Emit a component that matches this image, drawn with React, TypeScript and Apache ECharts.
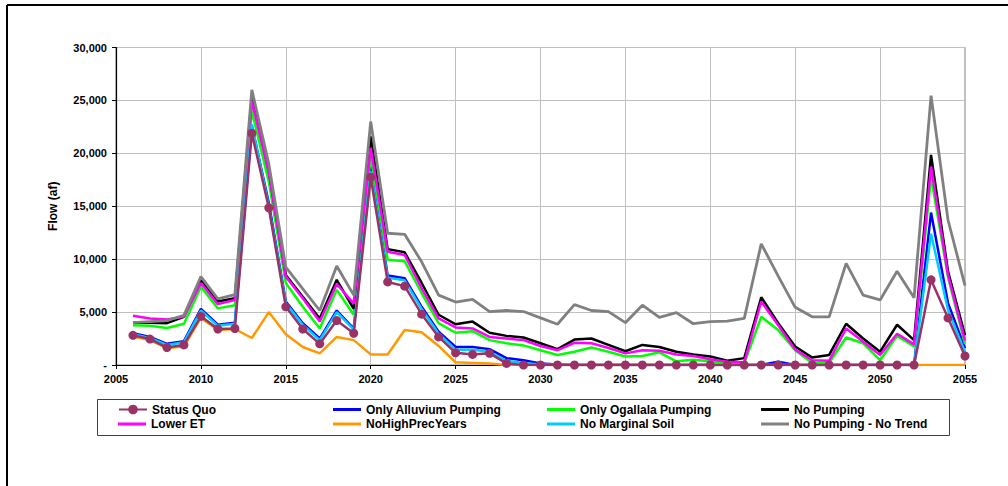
import React, { useEffect, useRef } from "react";
import * as echarts from "echarts";

const years = [
  2006, 2007, 2008, 2009, 2010, 2011, 2012, 2013, 2014, 2015,
  2016, 2017, 2018, 2019, 2020, 2021, 2022, 2023, 2024, 2025,
  2026, 2027, 2028, 2029, 2030, 2031, 2032, 2033, 2034, 2035,
  2036, 2037, 2038, 2039, 2040, 2041, 2042, 2043, 2044, 2045,
  2046, 2047, 2048, 2049, 2050, 2051, 2052, 2053, 2054, 2055,
];

const statusQuo = [
  2800, 2450, 1650, 1900, 4600, 3400, 3450, 21900, 14850, 5500,
  3400, 2000, 4200, 3000, 17750, 7850, 7450, 4800, 2650, 1150,
  1000, 1100, 150, 0, 0, 0, 0, 0, 0, 0,
  0, 0, 0, 0, 0, 0, 0, 0, 0, 0,
  0, 0, 0, 0, 0, 0, 0, 8050, 4450, 850,
];

const onlyAlluvium = [
  3000, 2650, 2000, 2250, 5300, 3800, 4000, 22600, 15300, 6000,
  3950, 2500, 5150, 3450, 18700, 8450, 8200, 5500, 3150, 1700,
  1700, 1500, 650, 450, 150, 50, 0, 0, 0, 0,
  0, 0, 0, 0, 0, 0, 0, 0, 300, 0,
  0, 0, 0, 0, 0, 0, 0, 14400, 5850, 1600,
];

const onlyOgallala = [
  3750, 3700, 3500, 3900, 7400, 5350, 5650, 24000, 17300, 7750,
  5500, 3450, 7100, 4750, 19700, 9950, 9800, 6800, 3950, 3050,
  3200, 2350, 2050, 1850, 1400, 950, 1250, 1650, 1250, 800,
  850, 1200, 350, 500, 350, 150, 150, 4550, 3300, 1400,
  200, 200, 2600, 2050, 450, 2750, 1750, 17800, 8300, 2000,
];

const noPumping = [
  4000, 4000, 3950, 4550, 8050, 6000, 6300, 25400, 18300, 8500,
  6450, 4400, 8050, 5300, 21600, 10950, 10650, 7750, 4750, 3850,
  4100, 3050, 2750, 2600, 2050, 1500, 2400, 2500, 1900, 1300,
  1900, 1700, 1250, 1000, 800, 400, 650, 6400, 3950, 1750,
  700, 950, 3900, 2500, 1250, 3800, 2350, 19850, 8850, 2800,
];

const lowerET = [
  4650, 4400, 4300, 4550, 7750, 5750, 6150, 24900, 18200, 8350,
  6300, 4100, 7650, 5800, 20500, 10700, 10400, 7250, 4400, 3550,
  3450, 2650, 2500, 2350, 1800, 1400, 2100, 2050, 1600, 1100,
  1400, 1350, 1000, 850, 550, 300, 250, 6000, 3750, 1450,
  450, 400, 3450, 2200, 950, 2950, 1950, 18750, 8500, 2300,
];

const noHighPrecYears = [
  2700, 2350, 1600, 1750, 4450, 3300, 3400, 2550, 5000, 2900,
  1700, 1100, 2650, 2350, 1000, 1000, 3300, 3100, 1800, 250,
  200, 150, 0, 0, 0, 0, 0, 0, 0, 0,
  0, 0, 0, 0, 0, 0, 0, 0, 0, 0,
  0, 0, 0, 0, 0, 0, 0, 0, 0, 0,
];

const noMarginalSoil = [
  2900, 2550, 1900, 2150, 5150, 3700, 3900, 22750, 15000, 5850,
  3800, 2350, 5000, 3350, 18300, 8250, 8000, 5300, 2950, 1450,
  1450, 1250, 400, 200, 50, 0, 0, 0, 0, 0,
  0, 0, 0, 0, 0, 0, 0, 0, 0, 0,
  0, 0, 0, 0, 0, 0, 0, 12400, 5200, 1200,
];

const noPumpingNoTrend = [
  4000, 4100, 4200, 4700, 8350, 6250, 6650, 26000, 19000, 9250,
  7200, 5150, 9350, 6600, 23000, 12450, 12350, 9750, 6600, 5950,
  6200, 5050, 5150, 5050, 4450, 3850, 5700, 5150, 5050, 4000,
  5650, 4500, 4950, 3900, 4100, 4150, 4400, 11450, 8400, 5450,
  4550, 4550, 9600, 6600, 6150, 8850, 6350, 25450, 13700, 7500,
];

const seriesDefs = [
  { name: "Status Quo", data: statusQuo, color: "#993366", width: 2.5, marker: true, z: 10 },
  { name: "Only Alluvium Pumping", data: onlyAlluvium, color: "#0000FF", width: 2.5, marker: false, z: 3 },
  { name: "Only Ogallala Pumping", data: onlyOgallala, color: "#00FF00", width: 2.5, marker: false, z: 3 },
  { name: "No Pumping", data: noPumping, color: "#000000", width: 2.5, marker: false, z: 3 },
  { name: "Lower ET", data: lowerET, color: "#FF00FF", width: 2.5, marker: false, z: 4 },
  { name: "NoHighPrecYears", data: noHighPrecYears, color: "#FF9900", width: 2.5, marker: false, z: 4 },
  { name: "No Marginal Soil", data: noMarginalSoil, color: "#00CCFF", width: 2.5, marker: false, z: 4 },
  { name: "No Pumping - No Trend", data: noPumpingNoTrend, color: "#808080", width: 2.8, marker: false, z: 5 },
];

const legendCols = [118, 333, 547, 761];
const legendRowTops = [403.5, 418];

const FONT = "'Liberation Sans', Arial, sans-serif";

export default function App() {
  const ref = useRef<HTMLDivElement>(null);

  useEffect(() => {
    if (!ref.current) return;
    const chart = echarts.init(ref.current, undefined, { renderer: "svg" });

    const legends = seriesDefs.map((s, i) => {
      const legend: any = {
        data: [s.name],
        left: legendCols[i % 4],
        top: legendRowTops[Math.floor(i / 4)],
        orient: "horizontal",
        padding: 0,
        itemWidth: 28,
        itemHeight: s.marker ? 12 : 3,
        itemGap: 0,
        selectedMode: false,
        textStyle: { fontFamily: FONT, fontWeight: "bold", fontSize: 12, color: "#000" },
      };
      if (!s.marker) {
        legend.icon = "rect";
      }
      return legend;
    });

    const option: any = {
      animation: false,
      backgroundColor: "#ffffff",
      textStyle: { fontFamily: FONT },
      grid: {
        left: 116,
        right: 43,
        top: 47.5,
        bottom: 121,
        show: true,
        borderColor: "#808080",
        borderWidth: 1,
        backgroundColor: "transparent",
      },
      legend: legends,
      xAxis: {
        type: "value",
        min: 2005,
        max: 2055,
        interval: 5,
        axisLine: { show: true, onZero: false, lineStyle: { color: "#000", width: 1.2 } },
        axisTick: { show: true, inside: false, length: 4, lineStyle: { color: "#000" } },
        axisLabel: {
          fontFamily: FONT,
          fontWeight: "bold",
          fontSize: 11,
          color: "#000",
          margin: 8,
          formatter: (v: number) => String(v),
        },
        splitLine: { show: true, lineStyle: { color: "#c0c0c0", width: 1 } },
      },
      yAxis: {
        type: "value",
        min: 0,
        max: 30000,
        interval: 5000,
        name: "Flow (af)",
        nameLocation: "middle",
        nameGap: 57,
        nameTextStyle: { fontFamily: FONT, fontWeight: "bold", fontSize: 12, color: "#000" },
        axisLine: { show: true, lineStyle: { color: "#000", width: 1.2 } },
        axisTick: { show: true, inside: false, length: 4, lineStyle: { color: "#000" } },
        axisLabel: {
          fontFamily: FONT,
          fontWeight: "bold",
          fontSize: 11,
          color: "#000",
          margin: 9,
          formatter: (v: number) => (v === 0 ? "-" : v.toLocaleString("en-US")),
        },
        splitLine: { show: true, lineStyle: { color: "#c0c0c0", width: 1 } },
      },
      series: seriesDefs.map((s) => ({
        name: s.name,
        type: "line",
        data: years.map((y, i) => [y, s.data[i]]),
        z: s.z,
        silent: true,
        symbol: s.marker ? "circle" : "none",
        symbolSize: s.marker ? 9 : 0,
        showSymbol: s.marker,
        itemStyle: { color: s.color },
        lineStyle: { color: s.color, width: s.width },
      })),
      graphic: [
        {
          type: "line",
          shape: { x1: 7, y1: 5, x2: 1008, y2: 5 },
          style: { stroke: "#000", lineWidth: 2 },
          silent: true,
        },
        {
          type: "line",
          shape: { x1: 7, y1: 5, x2: 7, y2: 486 },
          style: { stroke: "#000", lineWidth: 2 },
          silent: true,
        },
        {
          type: "rect",
          shape: { x: 97.5, y: 399.5, width: 852, height: 36 },
          style: { fill: "none", stroke: "#404040", lineWidth: 1 },
          silent: true,
        },
      ],
    };

    chart.setOption(option);
    return () => chart.dispose();
  }, []);

  return (
    <div
      ref={ref}
      style={{ position: "absolute", left: 0, top: 0, width: 1008, height: 486, background: "#fff" }}
    />
  );
}
